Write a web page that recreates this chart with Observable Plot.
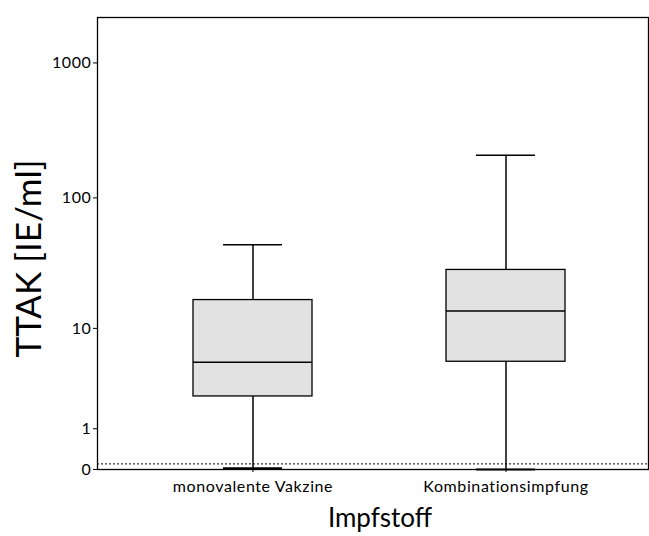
<!DOCTYPE html>
<html><head><meta charset="utf-8">
<script src="https://cdn.jsdelivr.net/npm/d3@7"></script>
<script src="https://cdn.jsdelivr.net/npm/@observablehq/plot@0.6"></script>
<style>body{margin:0;background:#fff}</style>
</head><body><div id="chart"></div>
<script>
const categories = ["monovalente Vakzine", "Kombinationsimpfung"];
const whiskerLow = [0.02, 0];
const q1 = [2.46, 5.24];
const median = [5.2, 13.75];
const q3 = [16.8, 28.7];
const whiskerHigh = [44.5, 207.6];
const threshold = [0.1];
const yTicks = [0, 1, 10, 100, 1000];
const yLabel = "TTAK [IE/ml]";
const xLabel = "Impfstoff";

const data = categories.map((c, i) => ({cat: c, lo: whiskerLow[i], q1: q1[i], med: median[i], q3: q3[i], hi: whiskerHigh[i]}));

const chart = Plot.plot({
  width: 649, height: 536,
  marginTop: 17, marginBottom: 67, marginLeft: 97, marginRight: 1,
  style: {fontFamily: "Lato", background: "white", color: "black"},
  x: {type: "band", domain: categories, range: [125.5, 631.5], paddingInner: 0.53, paddingOuter: 0.265, align: 0.5},
  y: {type: "symlog", constant: 1, domain: [0, 2165]},
  marks: [
    Plot.ruleY(threshold, {stroke: "black", strokeDasharray: "2,2", strokeWidth: 1}),
    Plot.ruleX(data, {x: "cat", y1: "lo", y2: "q1", stroke: "black", strokeWidth: 1.5}),
    Plot.ruleX(data, {x: "cat", y1: "q3", y2: "hi", stroke: "black", strokeWidth: 1.5}),
    Plot.barY(data, {x: "cat", y1: "q1", y2: "q3", fill: "#e2e2e2", stroke: "black", strokeWidth: 1.3}),
    Plot.tickY(data, {x: "cat", y: "med", stroke: "black", strokeWidth: 1.5}),
    Plot.tickY(data, {x: "cat", y: "hi", insetLeft: 30, insetRight: 30, stroke: "black", strokeWidth: 1.5}),
    Plot.tickY(data, {x: "cat", y: "lo", insetLeft: 30, insetRight: 30, stroke: "black", strokeWidth: 2}),
    Plot.frame({stroke: "black", strokeWidth: 1.3}),
    Plot.axisY({ticks: yTicks, tickFormat: d => String(d), tickSize: 4, tickPadding: 2, fontSize: 16, label: null}),
    Plot.axisX({fontSize: 16, tickSize: 3, tickPadding: 8, label: null}),
    Plot.text([yLabel], {frameAnchor: "left", textAnchor: "middle", rotate: -90, dx: -68, dy: 15, fontSize: 35}),
    Plot.text([xLabel], {frameAnchor: "bottom", dx: 7, dy: 57, fontSize: 26})
  ]
});
d3.select(chart).selectAll('[aria-label="x-axis tick label"] text').style("letter-spacing", "0.6px");
d3.select(chart).selectAll('[aria-label="y-axis tick label"] text').style("letter-spacing", "0.6px");
document.getElementById("chart").append(chart);
</script></body></html>
